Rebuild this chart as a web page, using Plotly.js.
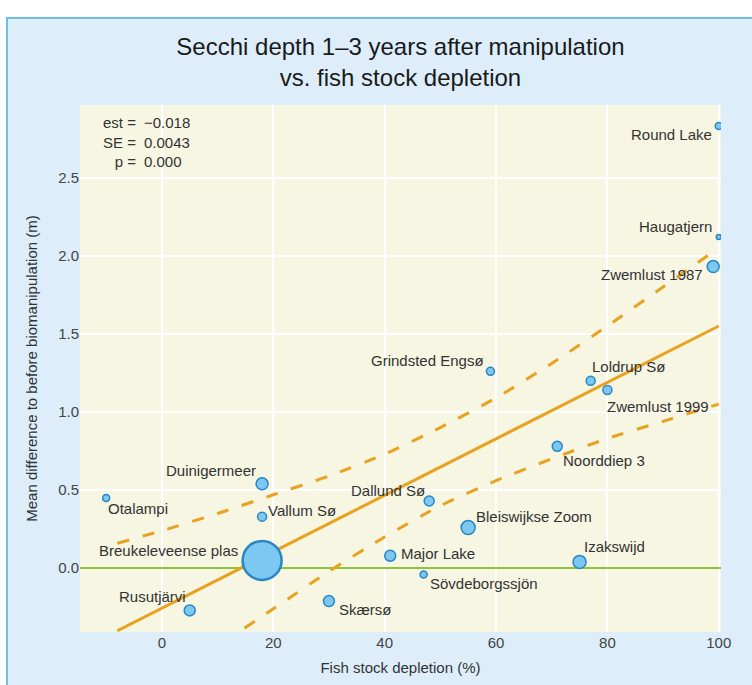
<!DOCTYPE html>
<html><head><meta charset="utf-8">
<script src="https://cdn.plot.ly/plotly-3.0.1.min.js"></script>
<style>html,body{margin:0;padding:0;background:#fff;} #chart{width:752px;height:685px;}</style>
</head><body><div id="chart"></div>
<script>
// ---- data ----
const lakes = ['Round Lake','Haugatjern','Zwemlust 1987','Grindsted Engsø','Loldrup Sø','Zwemlust 1999',
  'Noorddiep 3','Dallund Sø','Bleiswijkse Zoom','Major Lake','Izakswijd','Sövdeborgssjön','Skærsø',
  'Rusutjärvi','Breukeleveense plas','Duinigermeer','Vallum Sø','Otalampi'];
const depletion = [100, 100, 99, 59, 77, 80, 71, 48, 55, 41, 75, 47, 30, 5, 18, 18, 18, -10];
const secchiDiff = [2.83, 2.12, 1.93, 1.26, 1.20, 1.14, 0.78, 0.43, 0.26, 0.08, 0.04, -0.04, -0.21, -0.27, 0.05, 0.54, 0.33, 0.45];
const weights = [7, 5, 12, 8, 9, 9, 10, 10, 14, 11, 13, 7, 11, 11, 39, 12, 9, 7];
const fitX = [-8, 100];
const fitY = [-0.40, 1.55];
const bandX = [-8, 0, 10, 20, 30, 40, 50, 60, 70, 80, 90, 100];
const bandUpper = [0.16, 0.24, 0.35, 0.47, 0.59, 0.73, 0.90, 1.09, 1.31, 1.55, 1.80, 2.05];
const bandLower = [-0.96, -0.75, -0.50, -0.26, -0.02, 0.20, 0.40, 0.56, 0.70, 0.83, 0.94, 1.05];
const xTickVals = [0, 20, 40, 60, 80, 100];
const yTickVals = [0, 0.5, 1.0, 1.5, 2.0, 2.5];
const yTickText = ['0.0', '0.5', '1.0', '1.5', '2.0', '2.5'];
const statNames = ['est =', 'SE =', 'p ='];
const statValues = ['\u22120.018', '0.0043', '0.000'];

// ---- layout / style ----
const W = 752, H = 685;
const M = {l: 80, r: 31, t: 105, b: 53};
const pxX = px => (px - M.l) / (W - M.l - M.r);
const pxY = py => (H - M.b - py) / (H - M.t - M.b);
const FONT = '"Liberation Sans", Arial, Helvetica, sans-serif';
const ORANGE = '#e9a21f';
const TXT = '#333333';

// label placement: [xanchor, xshift, yshift]
const labelPlace = {
  'Round Lake': ['right', -5, -9],
  'Haugatjern': ['right', -5, 10],
  'Zwemlust 1987': ['right', -8, -8],
  'Grindsted Engsø': ['right', -4, 11],
  'Loldrup Sø': ['left', -1, 14],
  'Zwemlust 1999': ['left', -2, -16],
  'Noorddiep 3': ['left', 4, -14],
  'Dallund Sø': ['right', -2, 11],
  'Bleiswijkse Zoom': ['left', 6, 11],
  'Major Lake': ['left', 9, 2],
  'Izakswijd': ['left', 2, 15],
  'Sövdeborgssjön': ['left', 4, -9],
  'Skærsø': ['left', 8, -8],
  'Rusutjärvi': ['right', -2, 14],
  'Breukeleveense plas': ['right', -22, 10],
  'Duinigermeer': ['right', -4, 13],
  'Vallum Sø': ['left', 4, 6],
  'Otalampi': ['left', 0, -11]
};

const traces = [
  {x: bandX, y: bandUpper, type: 'scatter', mode: 'lines', hoverinfo: 'skip',
   line: {color: ORANGE, width: 3, dash: '12px,14px', shape: 'spline', smoothing: 0.6}},
  {x: bandX, y: bandLower, type: 'scatter', mode: 'lines', hoverinfo: 'skip',
   line: {color: ORANGE, width: 3, dash: '12px,14px', shape: 'spline', smoothing: 0.6}},
  {x: fitX, y: fitY, type: 'scatter', mode: 'lines', hoverinfo: 'skip',
   line: {color: ORANGE, width: 3}},
  {x: depletion, y: secchiDiff, text: lakes, type: 'scatter', mode: 'markers',
   marker: {size: weights, color: '#7cc8f3', opacity: 1,
            line: {color: '#2a86c2', width: weights.map(w => w > 30 ? 2.5 : 1.5)}}}
];

const annotations = lakes.map((name, i) => {
  const p = labelPlace[name];
  return {x: depletion[i], y: secchiDiff[i], xref: 'x', yref: 'y', text: name, showarrow: false,
    xanchor: p[0], yanchor: 'middle', xshift: p[1], yshift: p[2],
    font: {family: FONT, size: 15, color: TXT}};
});
annotations.push({x: pxX(138), y: pxY(142), xref: 'paper', yref: 'paper', showarrow: false,
  text: statNames.join('<br>'), align: 'right', xanchor: 'right', yanchor: 'middle',
  font: {family: FONT, size: 15, color: TXT}});
annotations.push({x: pxX(142), y: pxY(142), xref: 'paper', yref: 'paper', showarrow: false,
  text: statValues.join('<br>'), align: 'left', xanchor: 'left', yanchor: 'middle',
  font: {family: FONT, size: 15, color: TXT}});

const layout = {
  width: W, height: H,
  margin: M,
  paper_bgcolor: '#ddeefa',
  plot_bgcolor: '#f6f6e3',
  showlegend: false,
  font: {family: FONT, size: 15, color: TXT},
  title: {text: 'Secchi depth 1\u20133 years after manipulation<br>vs. fish stock depletion',
          x: 0.5, xref: 'paper', xanchor: 'center', y: 1 - 55 / H, yref: 'container', yanchor: 'middle',
          font: {family: FONT, size: 24, color: '#1a1a1a'}},
  xaxis: {range: [-14.7, 100.4], tickvals: xTickVals, showgrid: true, gridcolor: '#ffffff', gridwidth: 2,
          zeroline: false, showline: false, ticks: '', tickfont: {size: 15, color: '#444'},
          title: {text: 'Fish stock depletion (%)', font: {size: 15, color: TXT}, standoff: 12}},
  yaxis: {range: [-0.408, 2.964], tickvals: yTickVals, ticktext: yTickText, showgrid: true,
          gridcolor: '#ffffff', gridwidth: 2, zeroline: true, zerolinecolor: '#8cc63f', zerolinewidth: 2,
          showline: false, ticks: '', tickfont: {size: 15, color: '#444'},
          title: {text: 'Mean difference to before biomanipulation (m)', font: {size: 15, color: TXT}, standoff: 16}},
  annotations: annotations,
  shapes: [
    {type: 'rect', xref: 'paper', yref: 'paper', x0: pxX(-20), x1: pxX(800), y0: pxY(17), y1: pxY(-20),
     fillcolor: '#ffffff', line: {width: 0}, layer: 'above'},
    {type: 'rect', xref: 'paper', yref: 'paper', x0: pxX(-20), x1: pxX(6), y0: pxY(800), y1: pxY(-20),
     fillcolor: '#ffffff', line: {width: 0}, layer: 'above'},
    {type: 'rect', xref: 'paper', yref: 'paper', x0: pxX(7), x1: pxX(800), y0: pxY(800), y1: pxY(18),
     fillcolor: 'rgba(0,0,0,0)', line: {color: '#6cc0e6', width: 2}, layer: 'above'}
  ]
};

Plotly.newPlot('chart', traces, layout, {displayModeBar: false, staticPlot: true});
</script>
</body></html>
